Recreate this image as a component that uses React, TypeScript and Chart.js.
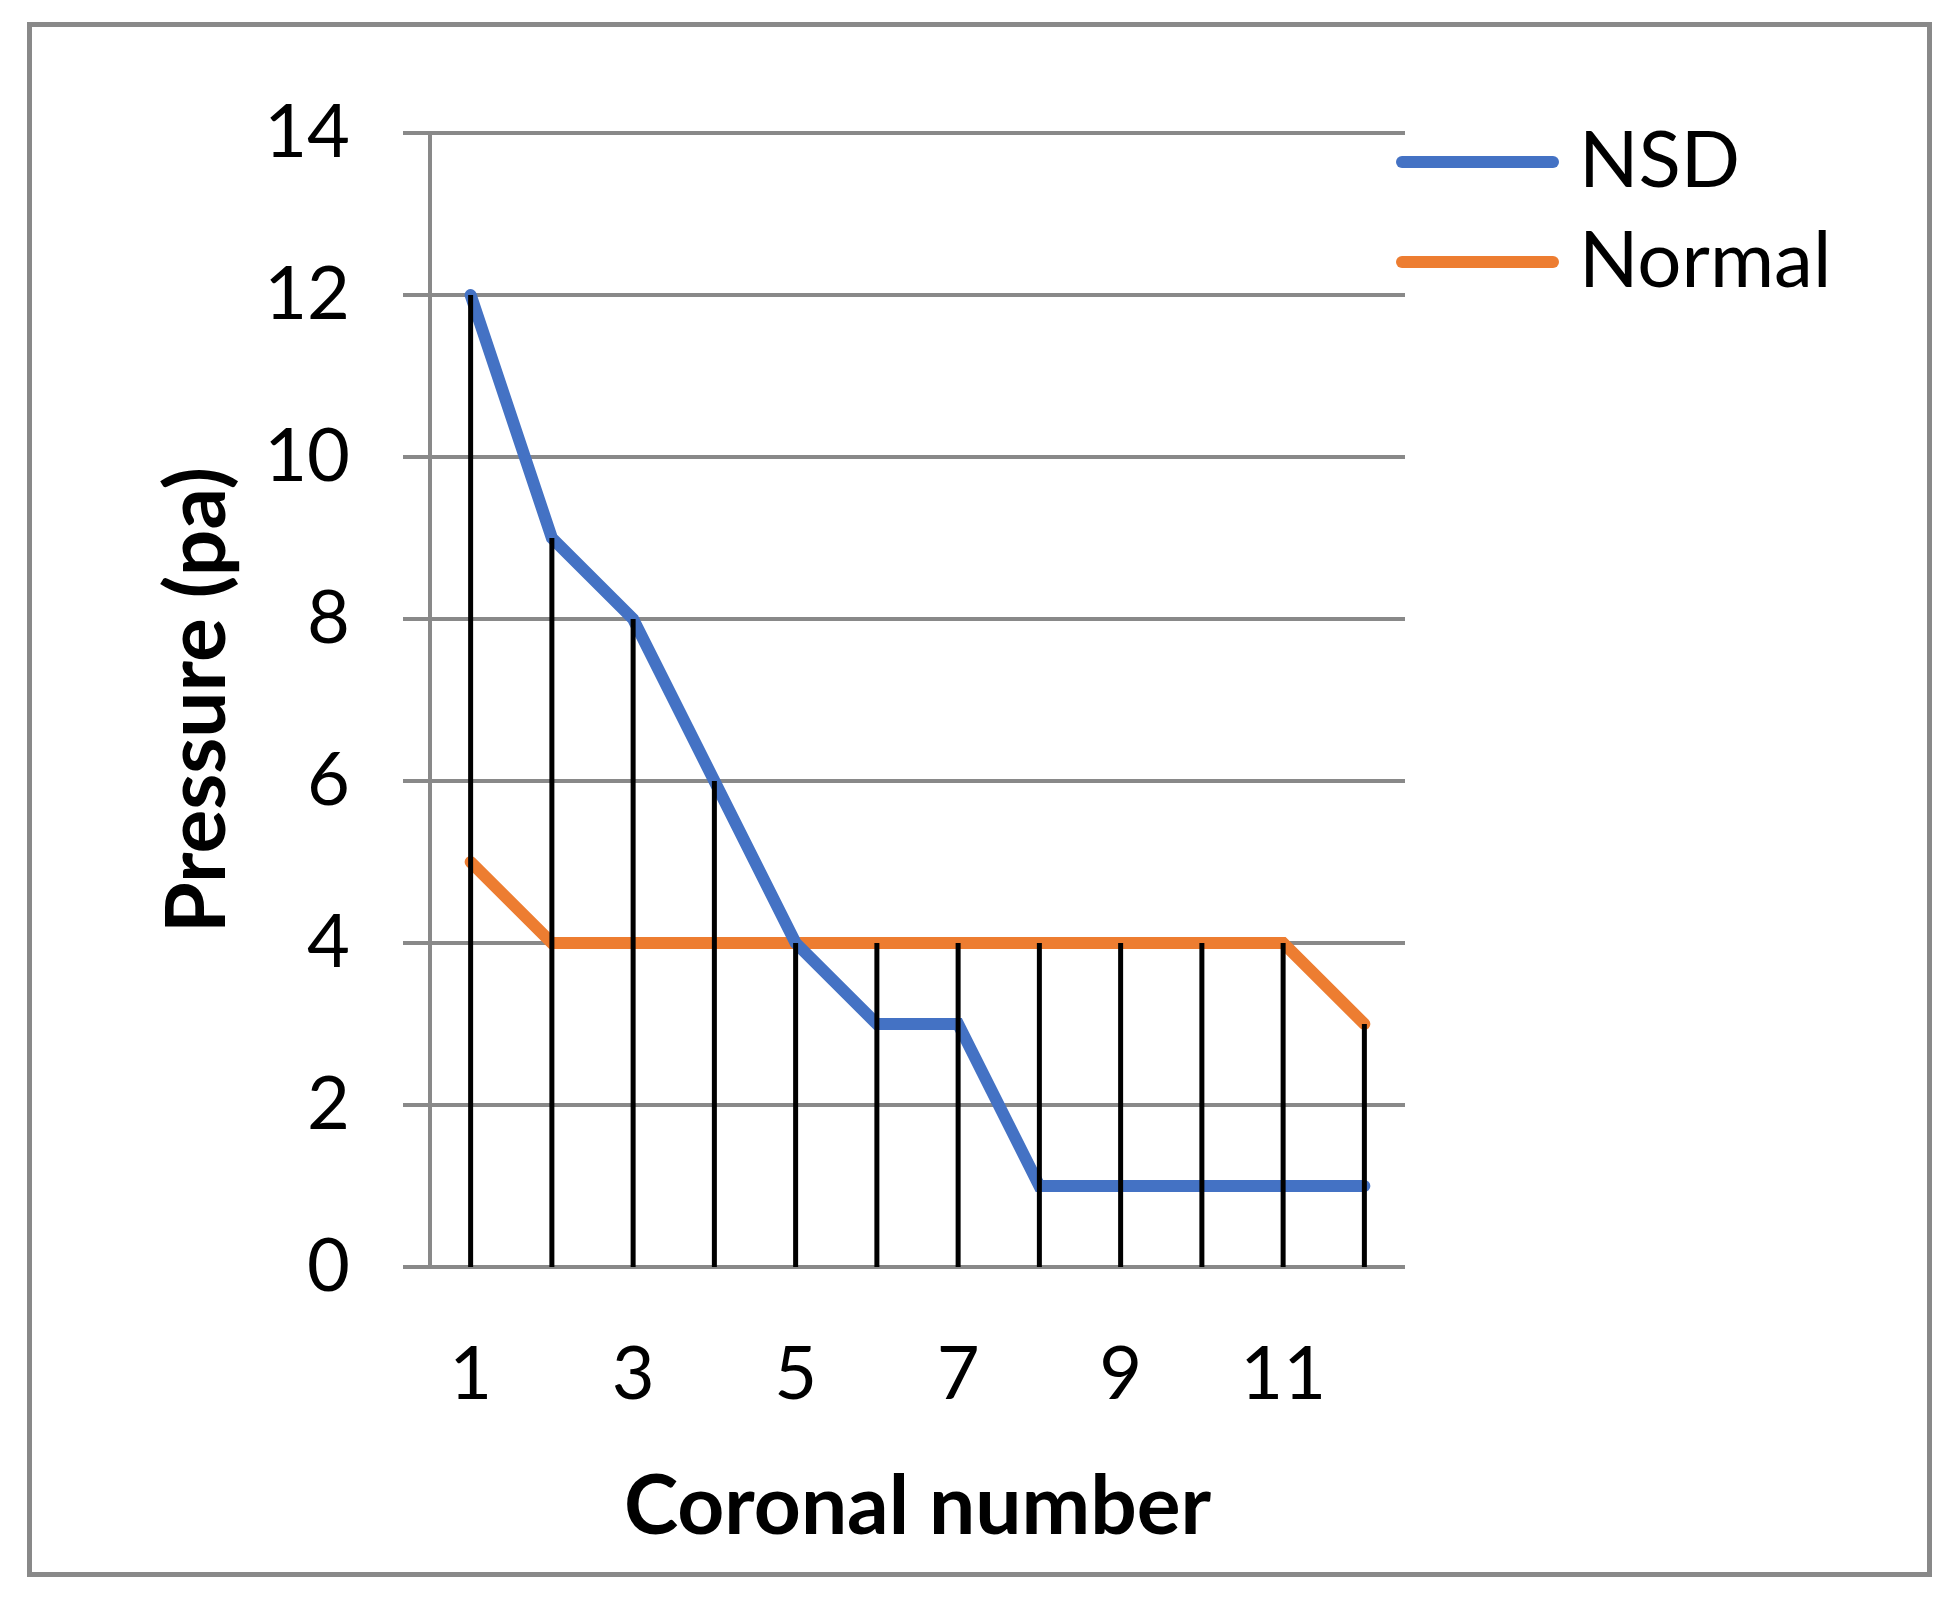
import React, { useEffect, useRef } from "react";
import { Chart, registerables } from "chart.js";

Chart.register(...registerables);

// ---- data ----
const categories = ["1", "2", "3", "4", "5", "6", "7", "8", "9", "10", "11", "12"];
const nsdValues = [12, 9, 8, 6, 4, 3, 3, 1, 1, 1, 1, 1];
const normalValues = [5, 4, 4, 4, 4, 4, 4, 4, 4, 4, 4, 3];
const seriesNames = ["NSD", "Normal"];
const seriesColors = ["#4472C4", "#ED7D31"];
const yMin = 0;
const yMax = 14;
const yStep = 2;
const xTitle = "Coronal number";
const yTitle = "Pressure (pa)";

const FONT = "Lato, 'Noto Sans', sans-serif";
const GRID = "#898989";

const framePlugin = {
  id: "frame",
  beforeDraw(chart: any) {
    const ctx = chart.ctx;
    ctx.save();
    ctx.fillStyle = "#ffffff";
    ctx.fillRect(0, 0, chart.width, chart.height);
    ctx.strokeStyle = GRID;
    ctx.lineWidth = 5;
    ctx.strokeRect(29.5, 24.5, 1900, 1550);
    ctx.restore();
  },
};

const dropLinesPlugin = {
  id: "dropLines",
  afterDatasetsDraw(chart: any) {
    const ctx = chart.ctx;
    const xs = chart.scales.x;
    const ys = chart.scales.y;
    const n = chart.data.labels.length;
    ctx.save();
    ctx.strokeStyle = "#000000";
    ctx.lineWidth = 5;
    ctx.lineCap = "butt";
    for (let i = 0; i < n; i++) {
      let top = -Infinity;
      chart.data.datasets.forEach((ds: any) => {
        const v = ds.data[i];
        if (v != null && v > top) top = v;
      });
      const x = xs.getPixelForValue(i);
      ctx.beginPath();
      ctx.moveTo(x, ys.getPixelForValue(top));
      ctx.lineTo(x, ys.getPixelForValue(yMin));
      ctx.stroke();
    }
    ctx.restore();
  },
};

const legendPlugin = {
  id: "sideLegend",
  afterDraw(chart: any) {
    const ctx = chart.ctx;
    ctx.save();
    chart.data.datasets.forEach((ds: any, i: number) => {
      const cy = 162 + i * 100;
      ctx.strokeStyle = ds.borderColor;
      ctx.lineWidth = 12;
      ctx.lineCap = "round";
      ctx.beginPath();
      ctx.moveTo(1402, cy);
      ctx.lineTo(1553, cy);
      ctx.stroke();
      ctx.fillStyle = "#000000";
      ctx.font = `78px ${FONT}`;
      ctx.textAlign = "left";
      ctx.textBaseline = "alphabetic";
      ctx.fillText(ds.label, 1579, 187 + i * 100);
    });
    ctx.restore();
  },
};

export default function App() {
  const canvasRef = useRef<HTMLCanvasElement | null>(null);

  useEffect(() => {
    const canvas = canvasRef.current;
    if (!canvas) return;
    const chart = new Chart(canvas, {
      type: "line",
      data: {
        labels: categories,
        datasets: [
          {
            label: seriesNames[0],
            data: nsdValues,
            borderColor: seriesColors[0],
            backgroundColor: seriesColors[0],
            borderWidth: 12,
            pointRadius: 0,
            tension: 0,
            borderCapStyle: "round",
            borderJoinStyle: "miter",
            clip: false,
          },
          {
            label: seriesNames[1],
            data: normalValues,
            borderColor: seriesColors[1],
            backgroundColor: seriesColors[1],
            borderWidth: 12,
            pointRadius: 0,
            tension: 0,
            borderCapStyle: "round",
            borderJoinStyle: "miter",
            clip: false,
          },
        ],
      },
      options: {
        animation: false,
        responsive: false,
        devicePixelRatio: 1,
        layout: { padding: { left: 110, top: 133, right: 555, bottom: 40 } },
        plugins: {
          legend: { display: false },
          tooltip: { enabled: false },
        },
        scales: {
          x: {
            type: "category",
            offset: true,
            grid: { display: false, drawTicks: false },
            border: { display: false },
            ticks: {
              autoSkip: false,
              maxRotation: 0,
              padding: 64,
              color: "#000000",
              font: { family: FONT, size: 74 },
              callback: (_v: any, i: number) => (i % 2 === 0 ? categories[i] : ""),
            },
            title: {
              display: true,
              text: xTitle,
              color: "#000000",
              font: { family: FONT, size: 82, weight: "bold" },
              padding: { top: 0, bottom: 14 },
            },
            afterFit: (s: any) => {
              s.height = 1571 - 1267;
            },
          },
          y: {
            min: yMin,
            max: yMax,
            grid: { color: GRID, lineWidth: 4, tickLength: 27, drawTicks: true },
            border: { display: true, color: GRID, width: 4 },
            ticks: {
              stepSize: yStep,
              padding: 53,
              color: "#000000",
              font: { family: FONT, size: 74 },
            },
            title: {
              display: true,
              text: yTitle,
              color: "#000000",
              font: { family: FONT, size: 82, weight: "bold" },
              padding: { top: 39, bottom: 0 },
            },
            afterFit: (s: any) => {
              s.width = 430 - 110;
            },
          },
        },
      },
      plugins: [framePlugin, dropLinesPlugin, legendPlugin],
    } as any);
    return () => chart.destroy();
  }, []);

  return (
    <div style={{ position: "fixed", left: 0, top: 0, width: 1960, height: 1611, background: "#fff" }}>
      <canvas ref={canvasRef} width={1960} height={1611} style={{ display: "block" }} />
    </div>
  );
}
